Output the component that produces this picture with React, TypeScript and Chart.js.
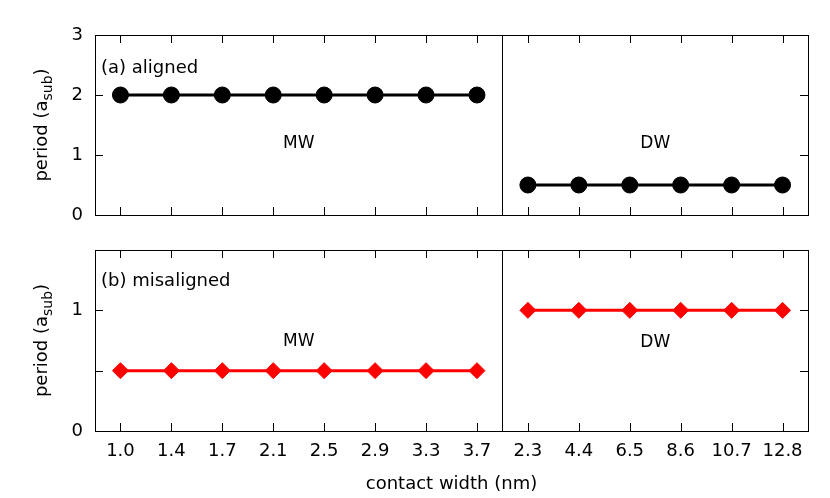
import React, { useEffect, useRef } from 'react';
import { Chart, registerables } from 'chart.js';

Chart.register(...registerables);

// ---- data ----
const contactWidthLabels = ['1.0', '1.4', '1.7', '2.1', '2.5', '2.9', '3.3', '3.7', '2.3', '4.4', '6.5', '8.6', '10.7', '12.8'];
const mwCount = 8; // first 8 categories are MW, the rest DW
const alignedMW = [2, 2, 2, 2, 2, 2, 2, 2];
const alignedDW = [0.5, 0.5, 0.5, 0.5, 0.5, 0.5];
const misalignedMW = [0.5, 0.5, 0.5, 0.5, 0.5, 0.5, 0.5, 0.5];
const misalignedDW = [1, 1, 1, 1, 1, 1];
const alignedYTicks = [0, 1, 2, 3];
const misalignedYTicks = [0, 0.5, 1, 1.5];
const misalignedYLabeled = [0, 1];

const FONT = '"DejaVu Sans", sans-serif';
const TICK_FONT = 18;
const TITLE_FONT = 18;
const NOTE_FONT = 17;

const pad = (arr: (number | null)[], before: number, after: number) => [
  ...Array(before).fill(null),
  ...arr,
  ...Array(after).fill(null),
];

const framePlugin = {
  id: 'frame',
  afterDraw(chart: any, _args: any, opts: any) {
    const { ctx, chartArea: a, scales } = chart;
    const x = scales.x;
    const y = scales.y;
    const tl = 8;
    ctx.save();
    ctx.strokeStyle = '#000';
    ctx.lineWidth = 1;
    ctx.beginPath();
    for (let i = 0; i < contactWidthLabels.length; i++) {
      const px = Math.round(x.getPixelForValue(i)) + 0.5;
      ctx.moveTo(px, a.bottom);
      ctx.lineTo(px, a.bottom - tl);
      ctx.moveTo(px, a.top);
      ctx.lineTo(px, a.top + tl);
    }
    (opts.yTicks as number[]).forEach((v) => {
      if (v <= y.min || v >= y.max) return;
      const py = Math.round(y.getPixelForValue(v)) + 0.5;
      ctx.moveTo(a.left, py);
      ctx.lineTo(a.left + tl, py);
      ctx.moveTo(a.right, py);
      ctx.lineTo(a.right - tl, py);
    });
    const dx = Math.round((x.getPixelForValue(mwCount - 1) + x.getPixelForValue(mwCount)) / 2) + 0.5;
    ctx.moveTo(dx, a.top);
    ctx.lineTo(dx, a.bottom);
    ctx.stroke();
    ctx.strokeRect(Math.round(a.left) + 0.5, Math.round(a.top) + 0.5, Math.round(a.right - a.left), Math.round(a.bottom - a.top));

    // annotations
    ctx.fillStyle = '#000';
    ctx.textBaseline = 'middle';
    ctx.textAlign = 'left';
    ctx.font = `${TITLE_FONT}px ${FONT}`;
    ctx.fillText(opts.panelLabel, a.left + 6, y.getPixelForValue(opts.panelLabelY));
    ctx.textAlign = 'center';
    ctx.font = `${NOTE_FONT}px ${FONT}`;
    ctx.fillText('MW', (a.left + dx) / 2, y.getPixelForValue(opts.mwY));
    ctx.fillText('DW', (dx + a.right) / 2, y.getPixelForValue(opts.dwY));

    // y title with subscript
    ctx.translate(a.left - 48, (a.top + a.bottom) / 2);
    ctx.rotate(-Math.PI / 2);
    ctx.textBaseline = 'alphabetic';
    ctx.textAlign = 'left';
    const main = 'period (a';
    const sub = 'sub';
    const close = ')';
    ctx.font = `${TITLE_FONT}px ${FONT}`;
    const w1 = ctx.measureText(main).width;
    const w3 = ctx.measureText(close).width;
    ctx.font = `14px ${FONT}`;
    const w2 = ctx.measureText(sub).width;
    const x0 = -(w1 + w2 + w3) / 2;
    ctx.font = `${TITLE_FONT}px ${FONT}`;
    ctx.fillText(main, x0, 0);
    ctx.font = `14px ${FONT}`;
    ctx.fillText(sub, x0 + w1, 5);
    ctx.font = `${TITLE_FONT}px ${FONT}`;
    ctx.fillText(close, x0 + w1 + w2, 0);
    ctx.restore();
  },
};

function makeDataset(data: (number | null)[], color: string, style: string) {
  return {
    data,
    borderColor: color,
    backgroundColor: color,
    borderWidth: 3,
    pointStyle: style,
    pointRadius: 8,
    pointBorderWidth: 1,
    pointBackgroundColor: color,
    pointBorderColor: color,
    spanGaps: false,
    tension: 0,
  };
}

const yFit = (s: any) => {
  s.width = 95;
  s.paddingTop = 0;
  s.paddingBottom = 0;
};

export default function App() {
  const topRef = useRef<HTMLCanvasElement>(null);
  const botRef = useRef<HTMLCanvasElement>(null);

  useEffect(() => {
    const dwCount = contactWidthLabels.length - mwCount;
    const top = new Chart(topRef.current!, {
      type: 'line',
      data: {
        labels: contactWidthLabels,
        datasets: [
          makeDataset(pad(alignedMW, 0, dwCount), '#000', 'circle'),
          makeDataset(pad(alignedDW, mwCount, 0), '#000', 'circle'),
        ],
      },
      options: {
        responsive: false,
        animation: false,
        events: [],
        layout: { padding: { top: 35, right: 22, bottom: 20, left: 0 } },
        plugins: {
          legend: { display: false },
          tooltip: { enabled: false },
          frame: { yTicks: alignedYTicks, panelLabel: '(a) aligned', panelLabelY: 2.45, mwY: 1.19, dwY: 1.19 },
        } as any,
        scales: {
          x: { type: 'category', offset: true, display: false },
          y: {
            min: 0,
            max: 3,
            afterFit: yFit,
            afterBuildTicks: (s: any) => { s.ticks = alignedYTicks.map((v) => ({ value: v })); },
            grid: { display: false, drawTicks: false },
            border: { display: false },
            ticks: { color: '#000', padding: 12, font: { family: FONT, size: TICK_FONT } },
          },
        },
      },
      plugins: [framePlugin],
    });

    const bot = new Chart(botRef.current!, {
      type: 'line',
      data: {
        labels: contactWidthLabels,
        datasets: [
          makeDataset(pad(misalignedMW, 0, dwCount), '#ff0000', 'rectRot'),
          makeDataset(pad(misalignedDW, mwCount, 0), '#ff0000', 'rectRot'),
        ],
      },
      options: {
        responsive: false,
        animation: false,
        events: [],
        layout: { padding: { top: 15, right: 22, bottom: 0, left: 0 } },
        plugins: {
          legend: { display: false },
          tooltip: { enabled: false },
          frame: { yTicks: misalignedYTicks, panelLabel: '(b) misaligned', panelLabelY: 1.24, mwY: 0.74, dwY: 0.735 },
        } as any,
        scales: {
          x: {
            type: 'category',
            offset: true,
            afterFit: (s: any) => { s.height = 67; },
            grid: { display: false, drawTicks: false },
            border: { display: false },
            ticks: { color: '#000', padding: 10, autoSkip: false, maxRotation: 0, font: { family: FONT, size: TICK_FONT } },
            title: {
              display: true,
              text: 'contact width (nm)',
              color: '#000',
              font: { family: FONT, size: TITLE_FONT },
              padding: { top: 4, bottom: 3 },
            },
          },
          y: {
            min: 0,
            max: 1.5,
            afterFit: yFit,
            afterBuildTicks: (s: any) => { s.ticks = misalignedYTicks.map((v) => ({ value: v })); },
            grid: { display: false, drawTicks: false },
            border: { display: false },
            ticks: {
              color: '#000',
              padding: 12,
              font: { family: FONT, size: TICK_FONT },
              callback: (v: any) => (misalignedYLabeled.includes(Number(v)) ? String(v) : ''),
            },
          },
        },
      },
      plugins: [framePlugin],
    });

    return () => {
      top.destroy();
      bot.destroy();
    };
  }, []);

  return (
    <div style={{ position: 'absolute', left: 0, top: 0, width: 830, height: 498, background: '#fff' }}>
      <canvas ref={topRef} width={830} height={235} style={{ position: 'absolute', left: 0, top: 0, width: 830, height: 235 }} />
      <canvas ref={botRef} width={830} height={263} style={{ position: 'absolute', left: 0, top: 235, width: 830, height: 263 }} />
    </div>
  );
}
